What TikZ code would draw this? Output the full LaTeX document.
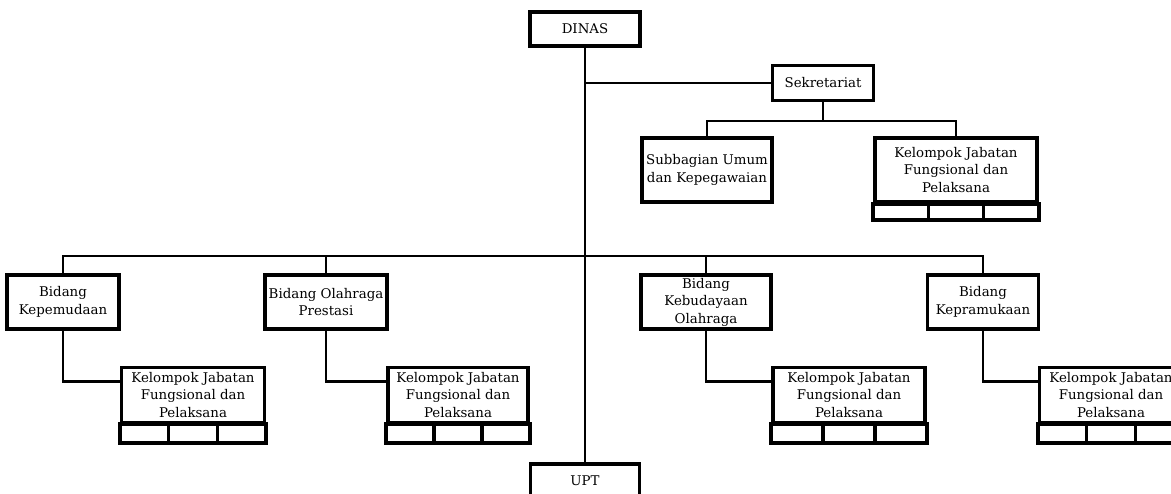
\documentclass[tikz,border=0pt]{standalone}
\usepackage{fontspec}
\setmainfont{DejaVu Serif}
\usetikzlibrary{calc}

\begin{document}
\begin{tikzpicture}[x = 0.02cm, y = -0.02cm,
    unit/.style = {draw, line width = 2.1pt, align = center,
      inner sep = 1pt, font = \fontsize{7.6}{10}\selectfont},
    link/.style = {line width = 1.5pt}]
    \useasboundingbox (0,0) rectangle (1171,494);
    \node [unit, minimum width = 2.2cm, minimum height = 0.68cm] (dinas) at (585,29) {DINAS};
    \node [unit, minimum width = 2.02cm, minimum height = 0.7cm] (sekr) at (823,83) {Sekretariat};
    \node [unit, minimum width = 2.6cm, minimum height = 1.28cm] (subb) at (707,170)
      {Subbagian Umum\\dan Kepegawaian};
    \node [unit, minimum width = 3.24cm, minimum height = 1.28cm] (kjf0) at (956,170)
      {Kelompok Jabatan\\Fungsional dan\\Pelaksana};
    \node [unit, minimum width = 2.24cm, minimum height = 1.08cm] (kepemudaan) at (63,302)
      {Bidang\\Kepemudaan};
    \node [unit, minimum width = 2.44cm, minimum height = 1.08cm] (olahraga) at (326,302)
      {Bidang Olahraga\\Prestasi};
    \node [unit, minimum width = 2.6cm, minimum height = 1.08cm] (kebudayaan) at (706,302)
      {Bidang\\Kebudayaan\\Olahraga};
    \node [unit, minimum width = 2.22cm, minimum height = 1.08cm] (kepramukaan) at (983,302)
      {Bidang\\Kepramukaan};
    \node [unit, minimum width = 2.86cm, minimum height = 1.1cm] (kjf1) at (193,395)
      {Kelompok Jabatan\\Fungsional dan\\Pelaksana};
    \node [unit, minimum width = 2.8cm, minimum height = 1.1cm] (kjf2) at (458,395)
      {Kelompok Jabatan\\Fungsional dan\\Pelaksana};
    \node [unit, minimum width = 3.04cm, minimum height = 1.1cm] (kjf3) at (849,395)
      {Kelompok Jabatan\\Fungsional dan\\Pelaksana};
    \node [unit, minimum width = 2.86cm, minimum height = 1.1cm] (kjf4) at (1111,395)
      {Kelompok Jabatan\\Fungsional dan\\Pelaksana};
    \node [unit, minimum width = 2.18cm, minimum height = 0.68cm] (upt) at (585,481) {UPT};
    \foreach \n/\h in {kjf0/16, kjf1/19, kjf2/19, kjf3/19, kjf4/19} {
      \draw [line width = 2.1pt] (\n.south west) rectangle ($(\n.south east)+(0,\h)$);
      \draw [line width = 2.1pt] ($(\n.south west)!1/3!(\n.south east)$) -- ++(0,\h);
      \draw [line width = 2.1pt] ($(\n.south west)!2/3!(\n.south east)$) -- ++(0,\h);
    }
    \coordinate (sekrjn) at (823,121);
    \coordinate (bus) at (586,256);
    \draw [link] (dinas.south) -- (dinas.south |- upt.north);
    \draw [link] (sekr.west) -- (sekr.west -| dinas.south);
    \draw [link] (sekr.south) -- (sekrjn);
    \draw [link] (subb.north) |- (sekrjn) -| (kjf0.north);
    \draw [link] (kepemudaan.north) |- (bus) -| (kepramukaan.north);
    \draw [link] (olahraga.north) -- (olahraga.north |- bus);
    \draw [link] (kebudayaan.north) -- (kebudayaan.north |- bus);
    \foreach \b/\k in {kepemudaan/kjf1, olahraga/kjf2, kebudayaan/kjf3, kepramukaan/kjf4} {
      \draw [link] (\b.south) |- ([yshift=-0.32cm]\k.north west);
    }
  \end{tikzpicture}
\end{document}
